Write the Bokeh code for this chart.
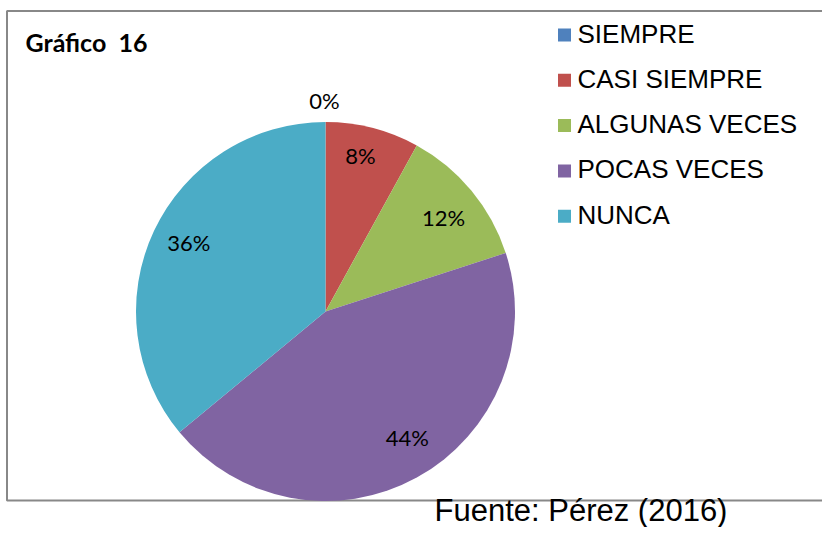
import math
from bokeh.plotting import figure
from bokeh.models import Range1d, ColumnDataSource
from bokeh.core.properties import value
from bokeh.embed import file_html
from bokeh.resources import INLINE

# ---- data ----
categories = ["SIEMPRE", "CASI SIEMPRE", "ALGUNAS VECES", "POCAS VECES", "NUNCA"]
percentages = [0, 8, 12, 44, 36]
colors = ["#4F81BD", "#C0504D", "#9BBB59", "#8064A2", "#4BACC6"]
title_text = "Gráfico\u00a0 16"
source_text = "Fuente: Pérez (2016)"

# ---- layout (screen pixel coordinates) ----
W, H = 822, 527


def X(px):
    return px


def Y(py):
    return H - py


CX, CY, R = 325, 311, 189.5
# label placement: angle clockwise from 12 o'clock (deg), distance from centre (px)
label_angle = [-0.3, 12.6, 51.5, 146.9, 296.7]
label_dist = [211, 160, 151, 150, 153]

p = figure(width=W, height=H, output_backend="svg", toolbar_location=None,
           x_range=Range1d(0, W), y_range=Range1d(0, H),
           min_border=0, outline_line_color=None)
p.axis.visible = False
p.grid.visible = False
p.background_fill_color = "white"
p.border_fill_color = "white"

# chart border box
p.quad(left=[X(6.5)], right=[X(900)], top=[Y(10.5)], bottom=[Y(500)],
       fill_color=None, line_color="#888888", line_width=2)

# pie wedges
total = sum(percentages)
starts, ends, cols = [], [], []
cum = 0.0
for v, c in zip(percentages, colors):
    a0 = math.pi / 2 - 2 * math.pi * cum / total
    cum += v
    a1 = math.pi / 2 - 2 * math.pi * cum / total
    if v > 0:
        starts.append(a0)
        ends.append(a1)
        cols.append(c)
src = ColumnDataSource(dict(start=starts, end=ends, color=cols))
p.wedge(x=X(CX), y=Y(CY), radius=R, start_angle="start", end_angle="end",
        direction="clock", fill_color="color", line_color=None, source=src)

# percentage labels
lx, ly, lt = [], [], []
for v, ang, d in zip(percentages, label_angle, label_dist):
    t = math.radians(ang)
    lx.append(X(CX + d * math.sin(t)))
    ly.append(Y(CY - d * math.cos(t)))
    lt.append(f"{v}%")
p.text(x=lx, y=ly, text=lt, text_font=value("Lato"), text_font_size="22px",
       text_align="center", text_baseline="middle", text_color="#000000")

# title
p.text(x=[X(25)], y=[Y(41)], text=[title_text], text_font=value("Lato"),
       text_font_style="bold", text_font_size="25px", text_align="left",
       text_baseline="middle", text_color="#000000")

# legend
leg_y = [Y(33 + i * 45.3) for i in range(len(categories))]
p.rect(x=[X(564)] * len(categories), y=[y - 1.5 for y in leg_y], width=13, height=13,
       fill_color=colors, line_color=None)
p.text(x=[X(577)] * len(categories), y=leg_y, text=categories,
       text_font=value("Liberation Sans"), text_font_size="26px",
       text_align="left", text_baseline="middle", text_color="#000000")

# source note
p.text(x=[X(434)], y=[Y(527.5)], text=[source_text], text_font=value("Liberation Sans"),
       text_font_size="31px", text_align="left", text_baseline="bottom",
       text_color="#000000")

open("out.html", "w").write(file_html(p, INLINE))
